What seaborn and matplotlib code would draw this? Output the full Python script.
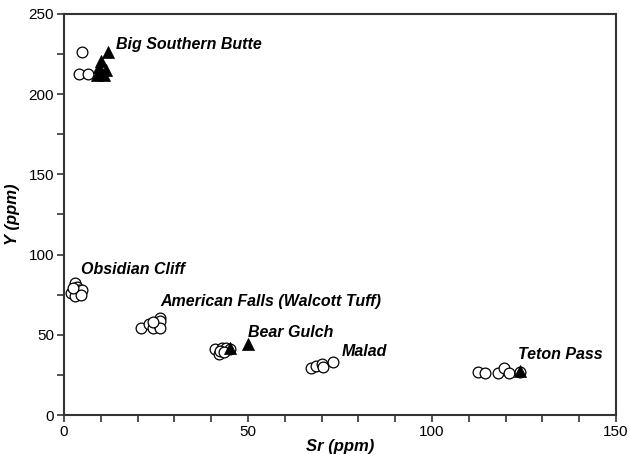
import numpy as np
import pandas as pd
import matplotlib
matplotlib.use("Agg")
import matplotlib.pyplot as plt
from matplotlib.ticker import MultipleLocator
import seaborn as sns

# open circles (obsidian samples)
circle_sr = [4.9, 4.1, 6.5,
             2.0, 3.0, 3.5, 4.0, 5.0, 3.0, 4.5, 2.5,
             21.0, 23.1, 24.2, 25.6, 26.1, 26.1, 26.1, 24.2,
             41.0, 42.0, 43.0, 44.0, 45.0, 42.5, 43.5,
             67.0, 68.5, 70.0, 70.5, 73.0,
             112.5, 114.5, 118.0, 119.5, 121.0, 124.0]
circle_y = [226, 212.5, 212.5,
            76, 82, 80, 78, 78, 74, 75, 79,
            54.5, 57, 54.5, 56.5, 60.5, 58.5, 54.5, 58,
            41, 38, 42, 42, 41, 40, 39,
            29.5, 30.5, 31.5, 30, 33,
            26.5, 26, 26, 29, 26, 26.5]

# filled triangles (source samples)
tri_sr = [12.0, 10.0, 9.5, 11.5, 9.0, 11.0, 10.0, 45.0, 50.0, 124.0]
tri_y = [226, 221, 217, 215, 212, 212, 214, 42, 44, 27.5]

labels = ["Big Southern Butte", "Obsidian Cliff", "American Falls (Walcott Tuff)",
          "Bear Gulch", "Malad", "Teton Pass"]
label_sr = [14.2, 4.6, 26.1, 50.1, 75.4, 123.3]
label_y = [231, 90.5, 70.5, 51.5, 39.5, 37.5]

circles = pd.DataFrame({"sr": circle_sr, "y": circle_y})
tris = pd.DataFrame({"sr": tri_sr, "y": tri_y})

sns.set_style("white", {"text.color": "black", "axes.labelcolor": "black",
                        "xtick.color": "black", "ytick.color": "black"})
plt.rcParams["font.family"] = ["Liberation Sans", "DejaVu Sans"]

fig = plt.figure(figsize=(6.29, 4.54), dpi=100)
ax = fig.add_axes([0.1017, 0.0859, 0.8776, 0.8833])

sns.scatterplot(data=circles, x="sr", y="y", marker="o", s=60,
                facecolor="white", edgecolor="black", linewidth=0.9, ax=ax, zorder=3)
sns.scatterplot(data=tris, x="sr", y="y", marker="^", s=75,
                color="black", edgecolor="black", linewidth=0.5, ax=ax, zorder=4)

for lab, xs, ys in zip(labels, label_sr, label_y):
    ax.text(xs, ys, lab, fontsize=11.5, fontweight="bold", fontstyle="italic",
            ha="left", va="center", color="black")

ax.set_xlim(0, 150)
ax.set_ylim(0, 250)
ax.xaxis.set_major_locator(MultipleLocator(50))
ax.xaxis.set_minor_locator(MultipleLocator(10))
ax.yaxis.set_major_locator(MultipleLocator(50))
ax.yaxis.set_minor_locator(MultipleLocator(25))
ax.tick_params(which="both", direction="out", length=5, width=1.2, color="#333333",
               bottom=True, left=True, top=False, right=False, labelsize=11,
               labelcolor="black", pad=2)

for sp in ax.spines.values():
    sp.set_color("#333333")
    sp.set_linewidth(1.5)

ax.set_xlabel("Sr (ppm)", fontsize=12, fontweight="bold", fontstyle="italic",
              labelpad=0, color="black")
ax.set_ylabel("Y (ppm)", fontsize=12, fontweight="bold", fontstyle="italic",
              labelpad=6, color="black")

fig.savefig("out.png", dpi=100)
